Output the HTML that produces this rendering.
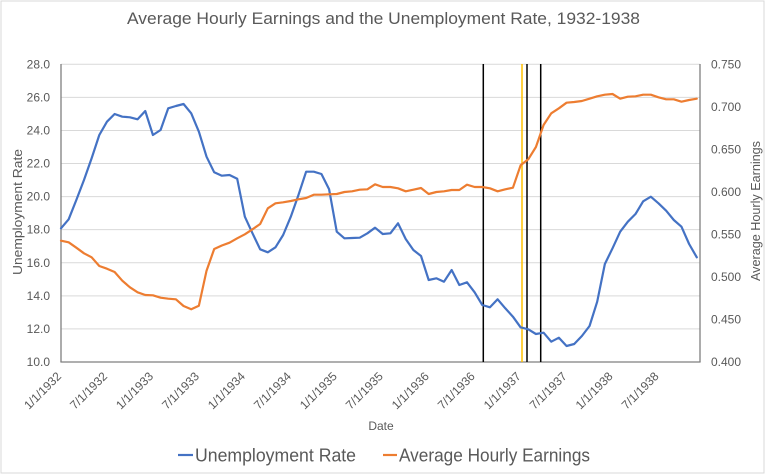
<!DOCTYPE html>
<html>
<head>
<meta charset="utf-8">
<style>
  html, body { margin:0; padding:0; background:#fff; }
  svg { display:block; }
  text { font-family: "Liberation Sans", sans-serif; fill:#595959; }
</style>
</head>
<body>
<svg width="768" height="474" viewBox="0 0 768 474" xmlns="http://www.w3.org/2000/svg">
  <rect x="0" y="0" width="768" height="474" fill="#fff"/>
  <rect x="1" y="1" width="763" height="472" fill="none" stroke="#D9D9D9" stroke-width="1"/>

  <!-- Title -->
  <text x="127" y="24" font-size="17" textLength="513" lengthAdjust="spacingAndGlyphs">Average Hourly Earnings and the Unemployment Rate, 1932-1938</text>

  <!-- gridlines -->
  <g stroke="#D9D9D9" stroke-width="1">
    <line x1="61" y1="328.92" x2="700" y2="328.92"/>
    <line x1="61" y1="295.84" x2="700" y2="295.84"/>
    <line x1="61" y1="262.76" x2="700" y2="262.76"/>
    <line x1="61" y1="229.68" x2="700" y2="229.68"/>
    <line x1="61" y1="196.6" x2="700" y2="196.6"/>
    <line x1="61" y1="163.52" x2="700" y2="163.52"/>
    <line x1="61" y1="130.44" x2="700" y2="130.44"/>
    <line x1="61" y1="97.36" x2="700" y2="97.36"/>
    <line x1="61" y1="64.28" x2="700" y2="64.28"/>
  </g>

  <!-- axes -->
  <g stroke="#7F7F7F" stroke-width="1.3" fill="none">
    <line x1="61" y1="64" x2="61" y2="362"/>
    <line x1="700" y1="64" x2="700" y2="362"/>
    <line x1="60.4" y1="362" x2="700.6" y2="362"/>
  </g>

  <!-- left labels -->
  <g font-size="12" text-anchor="end">
    <text x="50" y="366">10.0</text>
    <text x="50" y="332.9">12.0</text>
    <text x="50" y="299.8">14.0</text>
    <text x="50" y="266.8">16.0</text>
    <text x="50" y="233.7">18.0</text>
    <text x="50" y="200.6">20.0</text>
    <text x="50" y="167.5">22.0</text>
    <text x="50" y="134.4">24.0</text>
    <text x="50" y="101.4">26.0</text>
    <text x="50" y="68.3">28.0</text>
  </g>

  <!-- right labels -->
  <g font-size="12" text-anchor="start">
    <text x="711" y="366">0.400</text>
    <text x="711" y="323.5">0.450</text>
    <text x="711" y="280.9">0.500</text>
    <text x="711" y="238.4">0.550</text>
    <text x="711" y="195.9">0.600</text>
    <text x="711" y="153.4">0.650</text>
    <text x="711" y="110.8">0.700</text>
    <text x="711" y="68.3">0.750</text>
  </g>

  <!-- axis titles -->
  <text font-size="12.8" text-anchor="middle" transform="translate(22,212) rotate(-90)" textLength="126" lengthAdjust="spacingAndGlyphs">Unemployment Rate</text>
  <text font-size="12.6" text-anchor="middle" transform="translate(760,211) rotate(-90)" textLength="140" lengthAdjust="spacingAndGlyphs">Average Hourly Earnings</text>

  <!-- x labels -->
  <g font-size="12" text-anchor="end">
    <text transform="translate(62,377) rotate(-45)">1/1/1932</text>
    <text transform="translate(107.96,377) rotate(-45)">7/1/1932</text>
    <text transform="translate(153.92,377) rotate(-45)">1/1/1933</text>
    <text transform="translate(199.88,377) rotate(-45)">7/1/1933</text>
    <text transform="translate(245.84,377) rotate(-45)">1/1/1934</text>
    <text transform="translate(291.8,377) rotate(-45)">7/1/1934</text>
    <text transform="translate(337.76,377) rotate(-45)">1/1/1935</text>
    <text transform="translate(383.72,377) rotate(-45)">7/1/1935</text>
    <text transform="translate(429.68,377) rotate(-45)">1/1/1936</text>
    <text transform="translate(475.64,377) rotate(-45)">7/1/1936</text>
    <text transform="translate(521.6,377) rotate(-45)">1/1/1937</text>
    <text transform="translate(567.56,377) rotate(-45)">7/1/1937</text>
    <text transform="translate(613.52,377) rotate(-45)">1/1/1938</text>
    <text transform="translate(659.48,377) rotate(-45)">7/1/1938</text>
  </g>

  <text x="381" y="430" font-size="12" text-anchor="middle">Date</text>

  <!-- vertical marker lines -->
  <line x1="483.3" y1="64" x2="483.3" y2="362" stroke="#000" stroke-width="1.5"/>
  <line x1="522" y1="64" x2="522" y2="362" stroke="#FFC000" stroke-width="1.5"/>
  <line x1="527" y1="64" x2="527" y2="362" stroke="#000" stroke-width="1.5"/>
  <line x1="540.7" y1="64" x2="540.7" y2="362" stroke="#000" stroke-width="1.5"/>

  <!-- Unemployment Rate (blue) -->
  <polyline fill="none" stroke="#4472C4" stroke-width="2.2" stroke-linejoin="round" stroke-linecap="round" points="
61,228.3 68.66,219.3 76.32,200 83.98,180 91.64,158.3 99.3,135 106.96,121.7 114.62,114 122.28,116.7 129.94,117.3
137.6,119.3 145.26,111 152.92,135 160.58,130 168.24,108.3 175.9,106 183.56,104 191.22,113.3 198.88,131.7 206.54,156.7
214.2,172.3 221.86,175.7 229.52,175 237.18,178.7 244.84,216.7 252.5,233.3 260.16,249.3 267.82,252.3 275.48,247.3 283.14,235
290.8,216.7 298.46,195 306.12,171.7 313.78,171.7 321.44,174 329.1,189.3 336.76,231.7 344.42,238.3 352.08,238 359.74,237.7
367.4,233.3 375.06,227.7 382.72,234 390.38,233.3 398.04,223.3 405.7,239 413.36,250 421.02,256 428.68,280 436.34,278.3
444,281.7 451.66,270 459.32,285 466.98,282.3 474.64,292.3 482.3,305 489.96,307.3 497.62,299.3 505.28,308.3 512.94,316.7
520.6,327.3 528.26,329.3 535.92,334 543.58,332.7 551.24,341.7 558.9,337.7 566.56,346 574.22,344 581.88,336 589.54,326
597.2,301.7 604.86,264 612.52,248.3 620.18,231.7 627.84,221.7 635.5,214 643.16,201.3 650.82,196.7 658.48,203.3 666.14,210.7
673.8,220 681.46,226.7 689.12,244 696.78,257.3"/>

  <!-- Average Hourly Earnings (orange) -->
  <polyline fill="none" stroke="#ED7D31" stroke-width="2.2" stroke-linejoin="round" stroke-linecap="round" points="
61,240.7 68.66,242.3 76.32,247.7 83.98,253.3 91.64,257.3 99.3,266 106.96,268.7 114.62,272 122.28,280.7 129.94,287.3
137.6,292.3 145.26,295 152.92,295.3 160.58,297.7 168.24,298.7 175.9,299.3 183.56,306 191.22,309.3 198.88,305.7 206.54,270.7
214.2,249 221.86,245.5 229.52,242.7 237.18,238.3 244.84,234.3 252.5,229.3 260.16,224 267.82,208.3 275.48,203.3 283.14,202.3
290.8,201 298.46,199.3 306.12,198 313.78,194.7 321.44,194.7 329.1,194.3 336.76,194 344.42,192 352.08,191.3 359.74,189.7
367.4,189.3 375.06,184.3 382.72,187 390.38,187 398.04,188.3 405.7,191.3 413.36,189.7 421.02,188 428.68,194 436.34,192
444,191.3 451.66,190 459.32,190 466.98,184.7 474.64,187 482.3,187 489.96,188.3 497.62,191.3 505.28,189.3 512.94,187.7
520.6,165.3 528.26,159.3 535.92,147 543.58,125 551.24,113.3 558.9,108.3 566.56,102.7 574.22,102 581.88,101 589.54,98.7
597.2,96.3 604.86,94.7 612.52,94 620.18,98.7 627.84,96.7 635.5,96.3 643.16,94.7 650.82,94.7 658.48,97.3 666.14,99.3
673.8,99.3 681.46,101.7 689.12,100 696.78,98.7"/>

  <!-- Legend -->
  <line x1="178" y1="455" x2="193" y2="455" stroke="#4472C4" stroke-width="2.2"/>
  <text x="195" y="461.5" font-size="18" textLength="161" lengthAdjust="spacingAndGlyphs">Unemployment Rate</text>
  <line x1="383" y1="455" x2="397" y2="455" stroke="#ED7D31" stroke-width="2.2"/>
  <text x="399" y="461.5" font-size="18" textLength="191" lengthAdjust="spacingAndGlyphs">Average Hourly Earnings</text>
</svg>
</body>
</html>
